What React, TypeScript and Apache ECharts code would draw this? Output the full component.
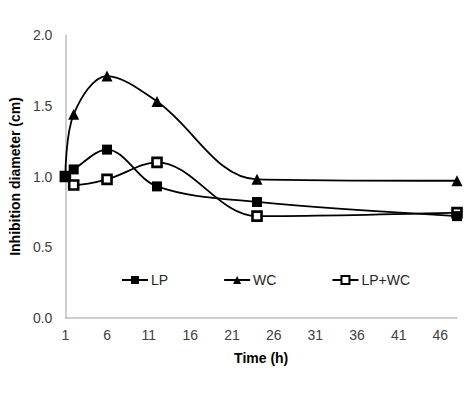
import React, { useEffect, useRef } from "react";
import * as echarts from "echarts";

const sampleHours = [1, 2, 6, 12, 24, 48];
const lp = [1.0, 1.05, 1.19, 0.93, 0.82, 0.72];
const wc = [1.0, 1.44, 1.71, 1.53, 0.98, 0.97];
const lpwc = [1.0, 0.94, 0.98, 1.1, 0.72, 0.745];
const seriesNames = ["LP", "WC", "LP+WC"];

function pairs(vals: number[]): [number, number][] {
  return sampleHours.map((h, i) => [h, vals[i]]);
}

export default function App() {
  const ref = useRef<HTMLDivElement>(null);
  useEffect(() => {
    document.body.style.margin = "0";
    if (!ref.current) return;
    const chart = echarts.init(ref.current, undefined, { renderer: "svg" });
    const font = "'Liberation Sans', Arial, sans-serif";
    const lineStyle = { color: "#000", width: 1.8 };
    const smooth = 0.35;
    chart.setOption({
      animation: false,
      backgroundColor: "#fff",
      textStyle: { fontFamily: font },
      grid: { left: 61, top: 35, right: 17, bottom: 80 },
      legend: {
        left: 116,
        top: 268,
        itemGap: 55,
        itemWidth: 26,
        itemHeight: 10,
        textStyle: { fontFamily: font, fontSize: 14, color: "#262626", padding: [0, 0, 0, -2] },
        data: seriesNames,
      },
      xAxis: {
        type: "value",
        min: 1,
        max: 48,
        interval: 5,
        name: "Time (h)",
        nameLocation: "middle",
        nameGap: 33,
        nameTextStyle: { fontFamily: font, fontSize: 14, fontWeight: "bold", color: "#000" },
        axisLine: { lineStyle: { color: "#bfbfbf", width: 1.5 } },
        axisTick: { show: false },
        axisLabel: { showMaxLabel: false, fontFamily: font, fontSize: 14, color: "#404040", margin: 10 },
        splitLine: { show: false },
      },
      yAxis: {
        type: "value",
        min: 0,
        max: 2,
        interval: 0.5,
        name: "Inhibition diameter (cm)",
        nameLocation: "middle",
        nameGap: 36,
        nameTextStyle: { fontFamily: font, fontSize: 14, fontWeight: "bold", color: "#000" },
        axisLine: { show: true, lineStyle: { color: "#bfbfbf", width: 1.5 } },
        axisTick: { show: false },
        axisLabel: { fontFamily: font, fontSize: 14, color: "#404040", margin: 13, formatter: (v: number) => v.toFixed(1) },
        splitLine: { show: false },
      },
      series: [
        {
          name: seriesNames[0],
          type: "line",
          data: pairs(lp),
          smooth,
          showAllSymbol: true,
          symbol: "rect",
          symbolSize: 10,
          itemStyle: { color: "#000" },
          lineStyle,
          z: 3,
        },
        {
          name: seriesNames[1],
          type: "line",
          data: pairs(wc),
          smooth,
          showAllSymbol: true,
          symbol: "triangle",
          symbolSize: 11,
          itemStyle: { color: "#000" },
          lineStyle,
          z: 2,
        },
        {
          name: seriesNames[2],
          type: "line",
          data: pairs(lpwc),
          smooth,
          showAllSymbol: true,
          symbol: "rect",
          symbolSize: 9,
          itemStyle: { color: "#fff", borderColor: "#000", borderWidth: 2.6 },
          lineStyle,
          z: 1,
        },
      ],
    });
    return () => chart.dispose();
  }, []);
  return <div ref={ref} style={{ width: 474, height: 398 }} />;
}
